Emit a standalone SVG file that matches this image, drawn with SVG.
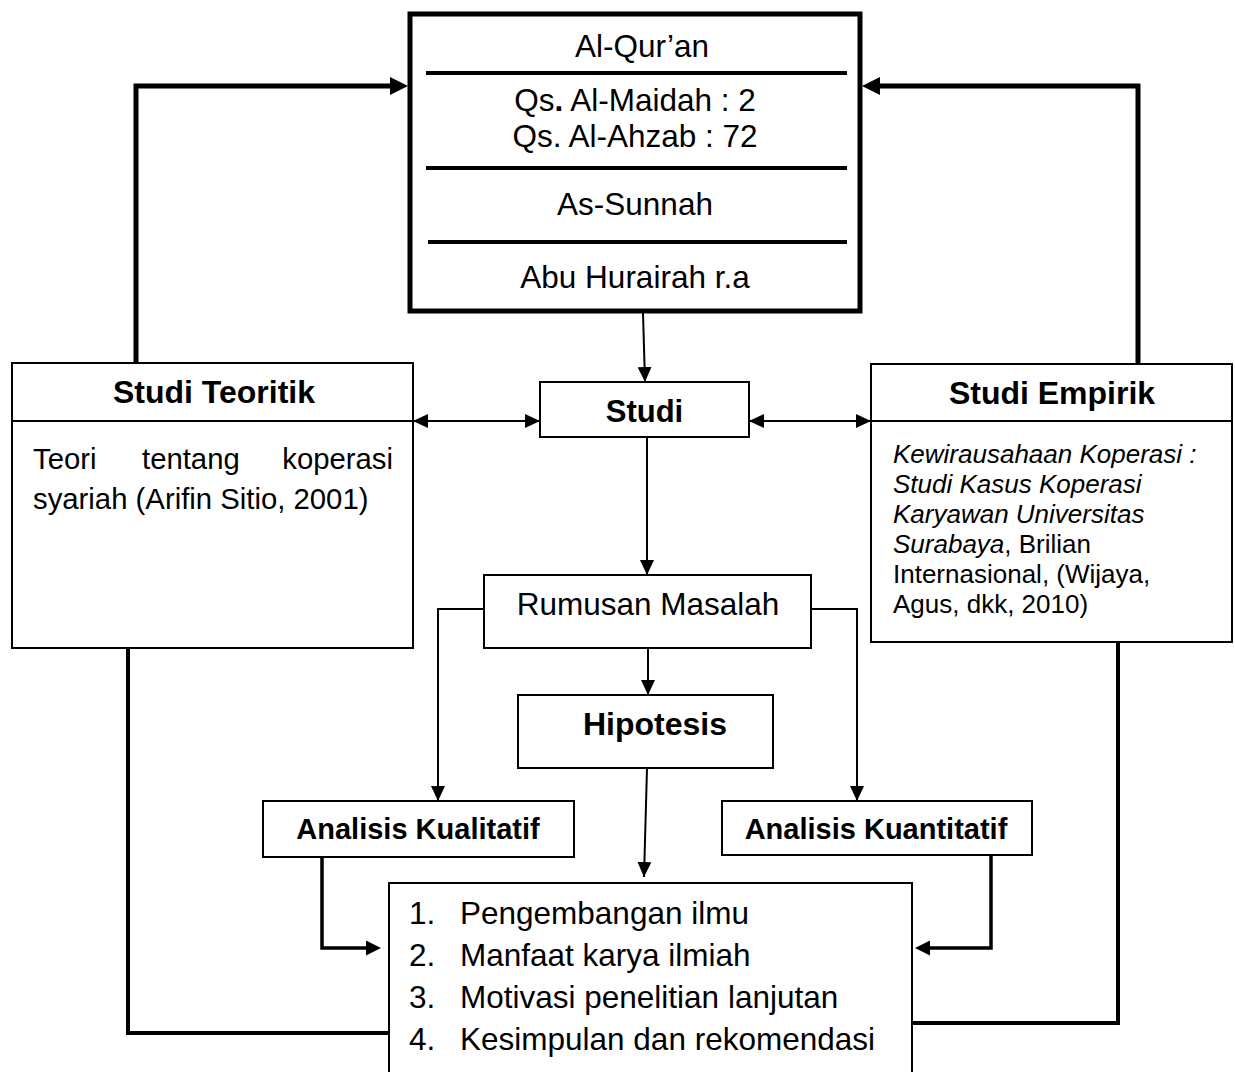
<svg xmlns="http://www.w3.org/2000/svg" width="1235" height="1072" viewBox="0 0 1235 1072">
<style>
.bg{fill:#fff}
.box{fill:#fff;stroke:#000;stroke-width:2}
.big{fill:#fff;stroke:#000;stroke-width:5}
.div{stroke:#000;stroke-width:4}
.hd{stroke:#000;stroke-width:2}
.t{font-family:"Liberation Sans",Arial,sans-serif;fill:#000}
.b{font-weight:bold}
.i{font-style:italic}
.c{fill:none;stroke:#000;stroke-width:2}
.c4{fill:none;stroke:#000;stroke-width:4}
.c5{fill:none;stroke:#000;stroke-width:5}
.c35{fill:none;stroke:#000;stroke-width:3.5}
</style>
<defs>
<marker id="ah" viewBox="0 0 15 14" refX="15" refY="7" markerWidth="15" markerHeight="14" markerUnits="userSpaceOnUse" orient="auto-start-reverse"><path d="M0,0 L15,7 L0,14 z" fill="#000"/></marker>
<marker id="ahb" viewBox="0 0 18 18" refX="12" refY="9" markerWidth="18" markerHeight="18" markerUnits="userSpaceOnUse" orient="auto"><path d="M0,0 L18,9 L0,18 z" fill="#000"/></marker>
<marker id="ahm" viewBox="0 0 15 15" refX="10" refY="7.5" markerWidth="15" markerHeight="15" markerUnits="userSpaceOnUse" orient="auto"><path d="M0,0 L15,7.5 L0,15 z" fill="#000"/></marker>
</defs>
<rect class="bg" x="0" y="0" width="1235" height="1072"/>

<g id="sumber">
<rect class="big" x="410" y="14" width="450" height="297"/>
<line class="div" x1="426" y1="73" x2="847" y2="73"/>
<line class="div" x1="426" y1="168" x2="847" y2="168"/>
<line class="div" x1="428" y1="242" x2="847" y2="242"/>
<g class="t" font-size="31.5" text-anchor="middle">
<text x="642" y="57">Al-Qur’an</text>
<text x="635" y="111">Qs<tspan font-weight="bold">.</tspan> Al-Maidah : 2</text>
<text x="635" y="147">Qs. Al-Ahzab : 72</text>
<text x="635" y="215">As-Sunnah</text>
<text x="635" y="288">Abu Hurairah r.a</text>
</g>
</g>

<g id="studi-teoritik">
<rect class="box" x="12" y="363" width="401" height="285"/>
<line class="hd" x1="12" y1="421" x2="413" y2="421"/>
<text class="t b" x="214" y="403" font-size="32" text-anchor="middle">Studi Teoritik</text>
<text class="t" font-size="29.3"><tspan x="33" y="469">Teori</tspan><tspan x="142" y="469">tentang</tspan><tspan x="393" y="469" text-anchor="end">koperasi</tspan><tspan x="33" y="509">syariah (Arifin Sitio, 2001)</tspan></text>
</g>

<g id="studi">
<rect class="box" x="540" y="382" width="209" height="55"/>
<text class="t b" x="644.5" y="422" font-size="31" text-anchor="middle">Studi</text>
</g>

<g id="studi-empirik">
<rect class="box" x="871" y="364" width="361" height="278"/>
<line class="hd" x1="871" y1="421" x2="1232" y2="421"/>
<text class="t b" x="1052" y="404" font-size="32" text-anchor="middle">Studi Empirik</text>
<g class="t" font-size="26">
<text class="i" x="893" y="463">Kewirausahaan Koperasi :</text>
<text class="i" x="893" y="493">Studi Kasus Koperasi</text>
<text class="i" x="893" y="523">Karyawan Universitas</text>
<text x="893" y="553"><tspan font-style="italic">Surabaya</tspan>, Brilian</text>
<text x="893" y="583">Internasional, (Wijaya,</text>
<text x="893" y="613">Agus, dkk, 2010)</text>
</g>
</g>

<g id="rumusan-masalah">
<rect class="box" x="484" y="575" width="327" height="73"/>
<text class="t" x="648" y="615" font-size="31.5" text-anchor="middle">Rumusan Masalah</text>
</g>

<g id="hipotesis">
<rect class="box" x="518" y="695" width="255" height="73"/>
<text class="t b" x="655" y="735" font-size="32" text-anchor="middle">Hipotesis</text>
</g>

<g id="analisis-kualitatif">
<rect class="box" x="263" y="801" width="311" height="56"/>
<text class="t b" x="418" y="839" font-size="29" text-anchor="middle">Analisis Kualitatif</text>
</g>

<g id="analisis-kuantitatif">
<rect class="box" x="722" y="801" width="310" height="54"/>
<text class="t b" x="876" y="839" font-size="29" text-anchor="middle">Analisis Kuantitatif</text>
</g>

<g id="hasil">
<rect class="box" x="389" y="883" width="523" height="210"/>
<g class="t" font-size="31.5">
<text x="409" y="924">1.</text><text x="460" y="924">Pengembangan ilmu</text>
<text x="409" y="966">2.</text><text x="460" y="966">Manfaat karya ilmiah</text>
<text x="409" y="1008">3.</text><text x="460" y="1008">Motivasi penelitian lanjutan</text>
<text x="409" y="1050">4.</text><text x="460" y="1050">Kesimpulan dan rekomendasi</text>
</g>
</g>

<g id="connectors">
<path class="c5" d="M136,363 V86 H402" marker-end="url(#ahb)"/>
<path class="c5" d="M1138,363 V86 H868" marker-end="url(#ahb)"/>
<path class="c" d="M643,313 L645,382" marker-end="url(#ah)"/>
<path class="c" d="M413,421 H540" marker-start="url(#ah)" marker-end="url(#ah)"/>
<path class="c" d="M749,421 H871" marker-start="url(#ah)" marker-end="url(#ah)"/>
<path class="c" d="M647,437 V575" marker-end="url(#ah)"/>
<path class="c" d="M484,609 H438 V801" marker-end="url(#ah)"/>
<path class="c" d="M811,609 H857 V801" marker-end="url(#ah)"/>
<path class="c" d="M648,648 V695" marker-end="url(#ah)"/>
<path class="c" d="M647,768 L644,877" marker-end="url(#ah)"/>
<path class="c35" d="M322,857 V948 H376" marker-end="url(#ahm)"/>
<path class="c35" d="M991,855 V948 H920" marker-end="url(#ahm)"/>
<path class="c4" d="M128,648 V1033 H389"/>
<path class="c4" d="M1118,642 V1023 H912"/>
</g>
</svg>
